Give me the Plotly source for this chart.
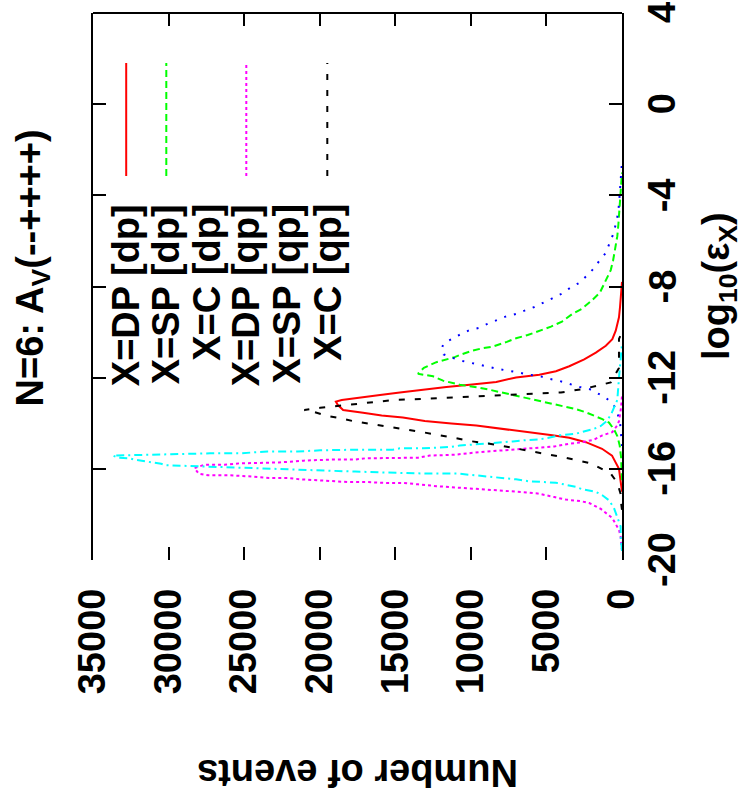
import plotly.graph_objects as go

# ---------------- data (log10(eps_X) , number of events) ----------------
dp_dp_log = [-17.0, -16.44, -16.0, -15.42, -15.12, -14.83, -14.64, -14.53, -14.41, -14.24, -14.10, -14.01,
             -13.90, -13.75, -13.66, -13.54, -13.42, -13.2, -13.05, -12.98, -12.88, -12.76, -12.65, -12.52,
             -12.41, -12.31, -12.19, -11.99, -11.87, -11.72, -11.50, -11.2, -10.90, -10.60, -10.31, -9.94,
             -9.35, -8.89, -8.2, -7.8]
dp_dp_cnt = [0, 90, 200, 660, 1320, 2390, 3490, 4610, 6130, 7900, 9640, 11290,
             13050, 14500, 15900, 17130, 18450, 18800, 18930, 18540, 17220, 16010, 14700, 13180,
             11620, 10080, 8320, 7010, 5470, 4370, 3490, 2500, 1730, 1070, 640, 415,
             200, 130, 40, 0]

sp_dp_log = [-16.5, -15.5, -14.98, -14.56, -14.27, -13.97, -13.82, -13.64, -13.52, -13.38, -13.23, -13.10,
             -12.98, -12.90, -12.79, -12.64, -12.53, -12.43, -12.31, -12.13, -11.94, -11.83, -11.57, -11.32,
             -11.2, -11.1, -10.98, -10.83, -10.72, -10.64, -10.43, -10.27, -10.13, -9.94, -9.76, -9.54,
             -9.2, -8.98, -8.65, -8.28, -7.75, -7.28, -6.86, -6.36, -5.79, -5.28, -4.16, -3.57, -3.0]
sp_dp_cnt = [0, 60, 150, 310, 530, 860, 1300, 1960, 2390, 3050, 4040, 4810,
             5580, 6240, 7010, 7990, 8760, 9540, 10740, 11840, 12500, 13500, 13110, 12280,
             11620, 11070, 10630, 9970, 9310, 8550, 7620, 7010, 6240, 5470, 4700, 3970,
             3280, 2660, 2060, 1470, 1070, 745, 590, 460, 310, 240, 130, 85, 0]

c_dp_log = [-15.0, -13.94, -13.54, -13.17, -12.88, -12.68, -12.49, -12.41, -12.24, -12.12, -12.06, -11.94,
            -11.87, -11.76, -11.63, -11.54, -11.45, -11.32, -11.24, -10.98, -10.75, -10.50, -10.16, -9.91,
            -9.82, -9.64, -9.45, -9.32, -9.2, -9.05, -8.90, -8.52, -8.31, -8.06, -7.84, -7.54,
            -7.24, -6.83, -6.53, -6.16, -5.72, -5.28, -4.79, -4.39, -3.05, -2.5]
c_dp_cnt = [0, 130, 310, 570, 1070, 1630, 2170, 2790, 3600, 4260, 4740, 5400,
            6170, 6900, 8110, 8720, 9470, 10200, 10740, 11800, 11950, 11800, 10870, 10080,
            9490, 8900, 8240, 7710, 7010, 6460, 5800, 4610, 3970, 3430, 2830, 2350,
            1910, 1450, 1070, 860, 590, 415, 260, 200, 90, 0]

dp_qp_log = [-19.6, -18.98, -18.68, -18.16, -17.76, -17.5, -17.42, -17.35, -17.24, -17.08, -17.02, -16.98,
             -16.93, -16.88, -16.8, -16.76, -16.68, -16.62, -16.62, -16.58, -16.58, -16.53, -16.46, -16.40,
             -16.40, -16.34, -16.28, -16.28, -16.21, -16.06, -15.97, -15.82, -15.82, -15.76, -15.72, -15.66,
             -15.64, -15.59, -15.59, -15.54, -15.51, -15.51, -15.42, -15.38, -15.26, -15.19, -15.1, -15.02,
             -14.9, -14.83, -14.72, -14.53, -14.39, -14.09, -13.91, -13.3, -12.8]
dp_qp_cnt = [0, 90, 200, 640, 1400, 2170, 2720, 3710, 4480, 5580, 6570, 7450,
             8880, 9750, 11180, 12280, 13490, 14480, 15570, 16890, 18100, 19750, 21270, 22140,
             23350, 24450, 26090, 27390, 28010, 28180, 28290, 27630, 26310, 25330, 22690, 21370,
             21070, 19090, 17660, 17000, 15030, 13490, 12720, 11070, 9310, 7780, 6130, 4480,
             3490, 2620, 1850, 1300, 640, 310, 200, 60, 0]

sp_qp_log = [-19.6, -18.98, -18.53, -18.09, -17.72, -17.38, -17.16, -17.01, -16.90, -16.79, -16.71, -16.61,
             -16.58, -16.55, -16.46, -16.40, -16.34, -16.28, -16.21, -16.21, -16.16, -16.16, -16.12, -16.06,
             -16.04, -15.96, -15.91, -15.84, -15.78, -15.72, -15.66, -15.60, -15.54, -15.51, -15.42, -15.40,
             -15.36, -15.32, -15.32, -15.24, -15.24, -15.19, -15.16, -15.16, -15.10, -15.10, -15.04, -14.98,
             -14.90, -14.86, -14.80, -14.74, -14.71, -14.65, -14.53, -14.46, -14.34, -14.24, -14.12, -13.91,
             -13.64, -13.35, -12.98, -12.01, -11.57, -11.0, -10.5]
sp_qp_cnt = [0, 90, 90, 310, 530, 860, 1300, 1730, 2620, 3050, 3710, 4370,
             5140, 6130, 7010, 7990, 8880, 9870, 10850, 12830, 14580, 15680, 17660, 20510,
             21480, 25390, 28290, 30200, 30490, 31150, 31650, 32200, 32570, 33350, 33680, 31170,
             29830, 27260, 25330, 23460, 21480, 19970, 17790, 15160, 14700, 13180, 11290, 10740,
             9210, 7990, 7230, 6350, 5580, 4920, 4150, 3050, 2390, 1850, 1400, 1030,
             745, 530, 310, 200, 150, 60, 0]

c_qp_log = [-17.8, -17.5, -17.1, -16.61, -16.21, -15.76, -15.50, -15.32, -15.12, -14.93, -14.79, -14.64,
            -14.41, -14.24, -14.08, -13.96, -13.91, -13.75, -13.69, -13.5, -13.42, -13.32, -13.28, -13.2,
            -13.16, -13.08, -13.05, -12.98, -12.92, -12.88, -12.80, -12.71, -12.65, -12.49, -12.41, -12.21,
            -11.57, -10.3, -10.0]
c_qp_cnt = [0, 60, 90, 310, 745, 2060, 3820, 5250, 6790, 8440, 9970, 11070,
            13050, 14630, 16170, 17220, 17770, 18870, 19420, 20410, 21020, 19970, 19420, 18320,
            17810, 16790, 16340, 15070, 12940, 11510, 8880, 5690, 4040, 2500, 1960, 745,
            200, 200, 0]

series_names = ["X=DP [dp]", "X=SP [dp]", "X=C [dp]", "X=DP [qp]", "X=SP [qp]", "X=C [qp]"]
series_logs = [dp_dp_log, sp_dp_log, c_dp_log, dp_qp_log, sp_qp_log, c_qp_log]
series_cnts = [dp_dp_cnt, sp_dp_cnt, c_dp_cnt, dp_qp_cnt, sp_qp_cnt, c_qp_cnt]

count_ticks = [0, 5000, 10000, 15000, 20000, 25000, 30000, 35000]
log_ticks = [-20, -16, -12, -8, -4, 0, 4]
log_tick_text = ["-20", "-16", "-12", "-8", "-4", "0", "4"]

# ---------------- styles ----------------
colors = ["#ff0000", "#00ff00", "#0000ff", "#ff00ff", "#00ffff", "#000000"]
dashes = ["solid", "7px,4px", "2px,8px", "3px,3px", "8px,4px,2px,4px", "6px,10px"]
show_sample = [True, True, False, True, False, True]

W, H = 748, 804
PL, PR, PT, PB = 93, 622, 13, 560      # plot frame in window pixels
L, T, R, B = PL, PT, W - PR, H - PB
pw, ph = PR - PL, PB - PT


def xp(px):
    return (px - PL) / pw


def yp(py):
    return (PB - py) / ph


FONT = "Liberation Sans"

fig = go.Figure()
for name, lg, ct, col, dsh in zip(series_names, series_logs, series_cnts, colors, dashes):
    fig.add_trace(go.Scatter(x=ct, y=lg, mode="lines", name=name,
                             line=dict(color=col, width=2, dash=dsh), showlegend=False))

tickfont = dict(family=FONT, size=38, color="black", weight="bold")
fig.update_layout(
    width=W, height=H,
    margin=dict(l=L, r=R, t=T, b=B),
    paper_bgcolor="white", plot_bgcolor="white",
    xaxis=dict(range=[35000, 0], tickvals=count_ticks, ticktext=[str(v) for v in count_ticks],
               ticks="inside", ticklen=13, tickwidth=2, tickcolor="black",
               showline=False, mirror="ticks", showgrid=False, zeroline=False,
               tickangle=-90, tickfont=tickfont, ticklabelstandoff=20, automargin=False,
               ticklabeloverflow="allow"),
    yaxis=dict(range=[-20, 4], tickvals=log_ticks, side="right",
               ticks="inside", ticklen=13, tickwidth=2, tickcolor="black",
               showline=True, linewidth=2, linecolor="black", mirror="ticks",
               showgrid=False, zeroline=False, showticklabels=False, automargin=False),
)

# right-axis tick labels (rotated, centred on their ticks)
for v, txt in zip(log_ticks, log_tick_text):
    fig.add_annotation(text=txt, xref="paper", yref="y", x=xp(662), y=v,
                       xanchor="center", yanchor="middle", textangle=-90,
                       showarrow=False, font=tickfont)

# top border
fig.add_shape(type="line", xref="paper", yref="paper", x0=0, x1=1, y0=1, y1=1,
              line=dict(color="black", width=2))

bigfont = dict(family=FONT, size=38, color="black", weight="bold")
# title
fig.add_annotation(text="N=6: A<sub>V</sub>(--++++)", xref="paper", yref="paper",
                   x=xp(32.5), y=yp(268), xanchor="center", yanchor="middle",
                   textangle=-90, showarrow=False, font=bigfont)
# axis titles
fig.add_annotation(text="log<sub>10</sub>(ε<sub>X</sub>)", xref="paper", yref="paper",
                   x=xp(719), y=yp(286), xanchor="center", yanchor="middle",
                   textangle=-90, showarrow=False, font=bigfont)
fig.add_annotation(text="Number of events", xref="paper", yref="paper",
                   x=xp(358), y=yp(773), xanchor="center", yanchor="middle",
                   textangle=180, showarrow=False, font=bigfont)

# legend (rotated)
leg_x = [126.2, 166.3, 206.3, 246.3, 286.6, 327.3]
for i, name in enumerate(series_names):
    fig.add_annotation(text=name, xref="paper", yref="paper",
                       x=xp(leg_x[i]), y=yp(202), xanchor="center", yanchor="top",
                       textangle=-90, showarrow=False, font=bigfont)
    if show_sample[i]:
        fig.add_shape(type="line", xref="paper", yref="paper",
                      x0=xp(leg_x[i]), x1=xp(leg_x[i]), y0=yp(176), y1=yp(63),
                      line=dict(color=colors[i], width=2, dash=dashes[i]))

# remove the default 8px page margin so the figure fills the window exactly
fig.write_html("out.html", config={"displayModeBar": False},
               post_script="document.body.style.margin='0';document.body.style.overflow='hidden';")
